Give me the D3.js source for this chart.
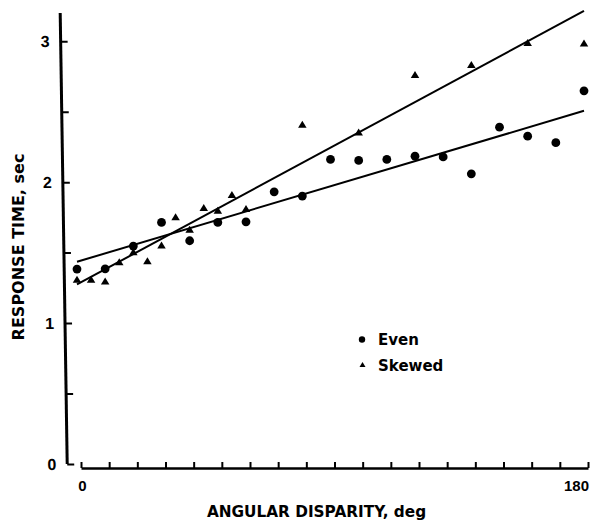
<!DOCTYPE html>
<html><head><meta charset="utf-8">
<script src="https://cdn.jsdelivr.net/npm/d3@7"></script>
<style>body{margin:0;background:#fff}svg{display:block}</style>
</head><body>
<script>
// Data
const evenAngles = [0,10,20,30,40,50,60,70,80,90,100,110,120,130,140,150,160,170,180];
const evenTimes  = [1.383,1.385,1.546,1.714,1.584,1.714,1.718,1.931,1.901,2.161,2.154,2.161,2.184,2.179,2.059,2.39,2.326,2.28,2.648];
const skewedAngles = [0,5,10,15,20,25,30,35,40,45,50,55,60,80,100,120,140,160,180];
const skewedTimes  = [1.31,1.31,1.298,1.435,1.506,1.442,1.553,1.754,1.665,1.82,1.80,1.913,1.813,2.411,2.355,2.764,2.835,2.99,2.988];
const fitAngles = [0,180];
const evenFit   = [1.435,2.506];
const skewedFit = [1.274,3.215];
const yTickValues = [0,0.5,1,1.5,2,2.5,3];
const yTickLabels = [0,1,2,3];
const xTickValues = d3.range(0,181,10);
const xTickLabels = [0,180];
const seriesNames = ["Even","Skewed"];

const W = 598, H = 522;
const svg = d3.select("body").append("svg").attr("width",W).attr("height",H);
svg.append("rect").attr("width",W).attr("height",H).attr("fill","#fff");

const x = d3.scaleLinear().domain([0,180]).range([77,584]);
const xAxisScale = d3.scaleLinear().domain([0,180]).range([81,588]);
const y = d3.scaleLinear().domain([0,3.2]).range([464,13]);

const numFont = "'Liberation Sans', Arial, sans-serif";
const txtFont = "'DejaVu Sans', sans-serif";

// Y axis (slightly tilted as in the printed figure)
const gy = svg.append("g").attr("transform","translate(60,0) skewX(0.89)");
gy.append("line").attr("x1",0).attr("x2",0).attr("y1",y(0)).attr("y2",y(3.2))
  .attr("stroke","#000").attr("stroke-width",3);
const ay = d3.axisRight(y).tickValues(yTickValues).tickSize(7).tickFormat("");
gy.append("g").call(ay).call(g=>g.select(".domain").remove())
  .call(g=>g.selectAll(".tick line").attr("stroke","#000").attr("stroke-width",2));
gy.selectAll(".ylab").data(yTickLabels).enter().append("text")
  .attr("x",-11).attr("y",d=>y(d)).attr("dy","0.36em").attr("text-anchor","end")
  .attr("font-family",numFont).attr("font-weight","bold").attr("font-size",16)
  .text(d=>d);

// X axis
const gx = svg.append("g").attr("transform","translate(0,468)");
gx.call(d3.axisTop(xAxisScale).tickValues(xTickValues).tickSize(6).tickSizeOuter(0).tickFormat(""))
  .call(g=>g.select(".domain").attr("stroke","#000").attr("stroke-width",2.6))
  .call(g=>g.selectAll(".tick line").attr("stroke","#000").attr("stroke-width",2));
svg.selectAll(".xlab").data(xTickLabels).enter().append("text")
  .attr("x",d=>d===0?xAxisScale(d)+1.5:xAxisScale(d)+1)
  .attr("y",491).attr("text-anchor",d=>d===0?"middle":"end")
  .attr("font-family",numFont).attr("font-weight","bold").attr("font-size",15)
  .text(d=>d);

// Axis titles
svg.append("text").attr("x",316.5).attr("y",517).attr("text-anchor","middle")
  .attr("font-family",txtFont).attr("font-weight","bold").attr("font-size",15.3)
  .text("ANGULAR DISPARITY, deg");
svg.append("text").attr("transform","translate(23.5,247) rotate(-90)").attr("text-anchor","middle")
  .attr("font-family",txtFont).attr("font-weight","bold").attr("font-size",16)
  .text("RESPONSE TIME, sec");

// Fit lines
const line = d3.line().x(d=>x(d[0])).y(d=>y(d[1]));
[evenFit, skewedFit].forEach(f=>{
  svg.append("path").datum(fitAngles.map((a,i)=>[a,f[i]]))
    .attr("d",line).attr("fill","none").attr("stroke","#000").attr("stroke-width",2);
});

// Triangle path helper (bbox-centred)
function tri(w,h){ return `M0,${-h/2}L${w/2},${h/2}L${-w/2},${h/2}Z`; }

// Points
svg.selectAll(".even").data(evenAngles).enter().append("circle")
  .attr("cx",d=>x(d)).attr("cy",(d,i)=>y(evenTimes[i])).attr("r",4.4).attr("fill","#000");
svg.selectAll(".skew").data(skewedAngles).enter().append("path")
  .attr("transform",(d,i)=>`translate(${x(d)},${y(skewedTimes[i])})`)
  .attr("d",tri(8.5,7)).attr("fill","#000");

// Legend
const lg = svg.append("g");
lg.append("circle").attr("cx",362).attr("cy",339.5).attr("r",3.2).attr("fill","#000");
lg.append("path").attr("transform","translate(362.5,364.5)").attr("d",tri(6,5)).attr("fill","#000");
lg.selectAll(".lt").data(seriesNames).enter().append("text")
  .attr("x",378).attr("y",(d,i)=>345+i*26)
  .attr("font-family",txtFont).attr("font-weight","bold").attr("font-size",15)
  .text(d=>d);
</script>
</body></html>
